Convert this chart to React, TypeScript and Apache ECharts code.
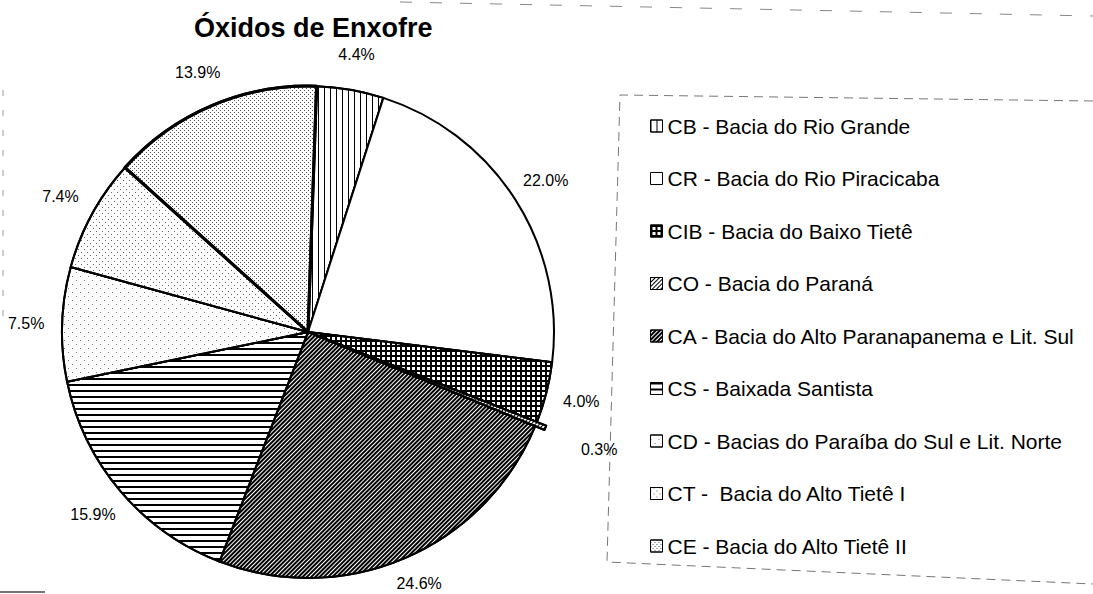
import React, { useEffect, useRef } from 'react';
import * as echarts from 'echarts';

const chartTitle = 'Óxidos de Enxofre';
const codes = ['CB', 'CR', 'CIB', 'CO', 'CA', 'CS', 'CD', 'CT', 'CE'];
const legendNames = [
  'CB - Bacia do Rio Grande',
  'CR - Bacia do Rio Piracicaba',
  'CIB - Bacia do Baixo Tietê',
  'CO - Bacia do Paraná',
  'CA - Bacia do Alto Paranapanema e Lit. Sul',
  'CS - Baixada Santista',
  'CD - Bacias do Paraíba do Sul e Lit. Norte',
  'CT -  Bacia do Alto Tietê I',
  'CE - Bacia do Alto Tietê II',
];
const shares = [4.4, 22.0, 4.0, 0.3, 24.6, 15.9, 7.5, 7.4, 13.9];
const explodedCode = 'CO';

const FONT = '"Liberation Sans", Arial, Helvetica, sans-serif';
const CX = 308;
const CY = 332;
const RADIUS = 246;
const START = 88;
const LABEL_R = 282;
const EXPLODE = 10;
const EXPLODED_LABEL_EXTRA = 22;
const LABEL_MAX_Y = 583;

const decals: any[] = [
  { symbol: 'rect', color: '#000', dashArrayX: [1, 5], dashArrayY: [1, 0] },
  null,
  { symbol: 'rect', color: '#000', dashArrayX: [[5, 0], [2, 3]], dashArrayY: [2, 0, 3, 0] },
  { symbol: 'rect', color: '#000', dashArrayX: [1, 2], dashArrayY: [1, 0], rotation: Math.PI / 4 },
  { symbol: 'rect', color: '#000', dashArrayX: [2, 1], dashArrayY: [1, 0], rotation: Math.PI / 4 },
  { symbol: 'rect', color: '#000', dashArrayX: [1, 0], dashArrayY: [2, 4] },
  { symbol: 'rect', color: '#777', dashArrayX: [[1, 7], [0, 4, 1, 3]], dashArrayY: [1, 3] },
  { symbol: 'rect', color: '#666', dashArrayX: [[1, 5], [0, 3, 1, 2]], dashArrayY: [1, 2] },
  { symbol: 'rect', color: '#555', dashArrayX: [[1, 3], [0, 2, 1, 1]], dashArrayY: [1, 1] },
];
const borderWidths = [2, 2, 2, 2, 2, 2, 2, 2, 3];

export default function App() {
  const ref = useRef<HTMLDivElement>(null);

  useEffect(() => {
    document.body.style.margin = '0';
    if (!ref.current) return;
    const chart = echarts.init(ref.current, undefined, { renderer: 'svg' });

    const total = shares.reduce((a, b) => a + b, 0);
    const mids: number[] = [];
    let acc = 0;
    shares.forEach((v) => {
      mids.push(START - ((acc + v / 2) / total) * 360);
      acc += v;
    });
    const exIdx = codes.indexOf(explodedCode);
    const exRad = (mids[exIdx] * Math.PI) / 180;
    const exCenter = [CX + EXPLODE * Math.cos(exRad), CY - EXPLODE * Math.sin(exRad)];

    const styleFor = (i: number) => {
      const s: any = { color: '#fff', borderColor: '#000', borderWidth: borderWidths[i] };
      if (decals[i]) s.decal = decals[i];
      return s;
    };
    const hidden = { color: 'rgba(0,0,0,0)', borderWidth: 0 };

    const mainData = shares.map((v, i) => ({
      name: i === exIdx ? codes[i] : legendNames[i],
      value: v,
      itemStyle: i === exIdx ? hidden : styleFor(i),
    }));
    const explodedData = shares.map((v, i) => ({
      name: i === exIdx ? legendNames[i] : codes[i],
      value: v,
      itemStyle: i === exIdx ? styleFor(i) : hidden,
    }));

    chart.setOption({
      animation: false,
      backgroundColor: '#fff',
      title: {
        text: chartTitle,
        left: 194,
        top: 14,
        padding: 0,
        textStyle: { fontFamily: FONT, fontSize: 27, fontWeight: 'bold', color: '#000' },
      },
      legend: {
        orient: 'vertical',
        left: 645,
        top: 110,
        itemWidth: 12,
        itemHeight: 12,
        itemGap: 30.5,
        icon: 'rect',
        selectedMode: false,
        data: legendNames,
        itemStyle: { borderColor: '#000', borderWidth: 1 },
        textStyle: { fontFamily: FONT, fontSize: 21, lineHeight: 22, color: '#000' },
      },
      graphic: [
        {
          type: 'polyline',
          silent: true,
          shape: { points: [[1093, 101], [620, 95], [607, 562], [1093, 584]] },
          style: { stroke: '#777', lineWidth: 1, lineDash: [9, 6], fill: null },
        },
        {
          type: 'line',
          silent: true,
          shape: { x1: 400, y1: 2, x2: 1093, y2: 16 },
          style: { stroke: '#888', lineWidth: 1, lineDash: [12, 18] },
        },
        {
          type: 'line',
          silent: true,
          shape: { x1: 3, y1: 90, x2: 3, y2: 325 },
          style: { stroke: '#999', lineWidth: 1, lineDash: [6, 14] },
        },
        {
          type: 'line',
          silent: true,
          shape: { x1: 0, y1: 592, x2: 45, y2: 592 },
          style: { stroke: '#444', lineWidth: 1.5 },
        },
      ],
      series: [
        {
          type: 'pie',
          center: [CX, CY],
          radius: RADIUS,
          startAngle: START,
          clockwise: true,
          avoidLabelOverlap: false,
          selectedMode: false,
          silent: true,
          emphasis: { disabled: true },
          label: {
            show: true,
            position: 'outside',
            fontFamily: FONT,
            fontSize: 16,
            color: '#000',
            formatter: (p: any) => Number(p.value).toFixed(1) + '%',
          },
          labelLine: { show: false },
          labelLayout: (p: any) => {
            const i = p.dataIndex;
            const a = (mids[i] * Math.PI) / 180;
            const r = LABEL_R + (i === exIdx ? EXPLODE + EXPLODED_LABEL_EXTRA : 0);
            return {
              x: CX + r * Math.cos(a),
              y: Math.min(CY - r * Math.sin(a), LABEL_MAX_Y),
              align: 'center',
              verticalAlign: 'middle',
            };
          },
          data: mainData,
        },
        {
          type: 'pie',
          center: exCenter,
          radius: RADIUS,
          startAngle: START,
          clockwise: true,
          avoidLabelOverlap: false,
          selectedMode: false,
          silent: true,
          emphasis: { disabled: true },
          label: { show: false },
          labelLine: { show: false },
          data: explodedData,
        },
      ],
    });

    return () => chart.dispose();
  }, []);

  return <div ref={ref} style={{ width: 1093, height: 594 }} />;
}
